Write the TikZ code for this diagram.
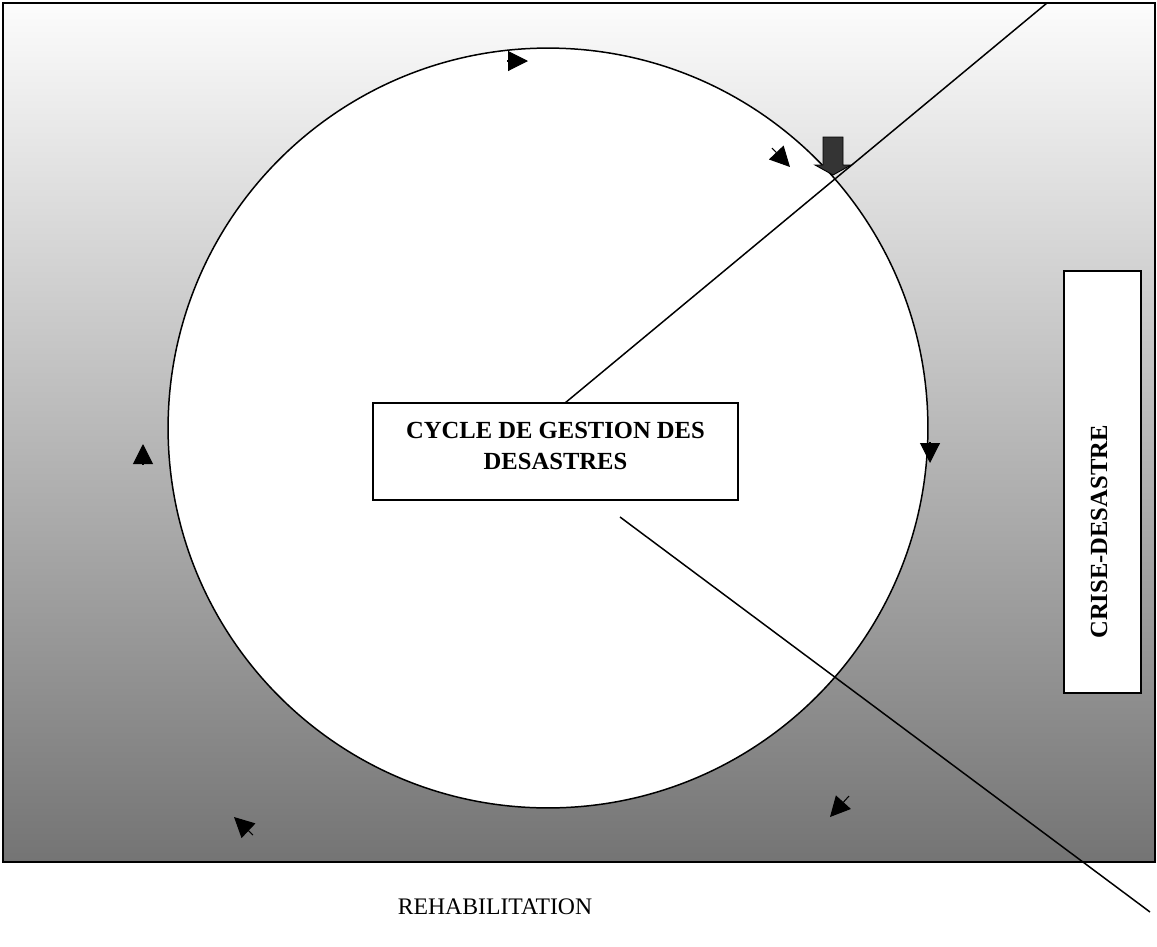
\documentclass[tikz,border=0pt]{standalone}
\usepackage{fontspec}
\setmainfont{Liberation Serif}
\usepackage{tikz}
\usetikzlibrary{arrows,arrows.meta,calc,positioning}
\definecolor{grisClaro}{RGB}{252,252,252}
\definecolor{grisFondo}{RGB}{116,116,116}
\definecolor{grisOscuro}{RGB}{52,52,52}
\tikzstyle{edge}  =[line width=0.85pt]
\tikzstyle{marco} =[draw, line width=1.1pt,
                    top color=grisClaro, bottom color=grisFondo]
\tikzstyle{Bvertex}=[circle, draw, fill=white, minimum size=15.2cm,
                    line width=0.85pt, inner sep=0pt,
                    outer sep=0pt]
\tikzstyle{caja}  =[rectangle, draw, fill=white, line width=1.1pt,
                    inner sep=0pt, outer sep=0pt]
\tikzstyle{titulo}=[font=\fontsize{14}{18}\selectfont\bfseries,
                    align=center, inner sep=0pt]
\tikzstyle{punta} =[-{Triangle[length=0.4cm,width=0.4cm]},
                    line width=0.6pt]

\begin{document}
\begin{tikzpicture}[x={(0.02cm,0)},y={(0,-0.02cm)}]
    \useasboundingbox (0,0) rectangle (1157,947);

    % fondo degradado
    \draw[marco] (3,3) rectangle (1155,862);

    % ciclo
    \draw (548,428) node (ciclo) [Bvertex] {};

    % flecha gruesa
    \filldraw[fill=grisOscuro, line width=0.5pt] (823,137) -- (843,137)
        -- (843,165) -- (851,165) -- (833,175) -- (815,165) -- (823,165) -- cycle;

    % puntas sueltas
    \foreach \xa/\ya/\xb/\yb in {507/61/528/61, 772/148/790/167,
        143/465/143/444, 930/442/930/463, 253/835/234/817, 849/796/830/817}
        \draw[punta] (\xa,\ya) -- (\xb,\yb);

    % caja central
    \draw (555.5,451.5) node (cycle) [caja, minimum width=7.3cm, minimum height=1.94cm] {};
    \draw (555.5,446) node (cycleText) [titulo] {CYCLE DE GESTION DES\\DESASTRES};

    % lineas
    \coordinate (l1a) at (565,403);
    \coordinate (l1b) at (1047,3);
    \coordinate (l2a) at (620,517);
    \coordinate (l2b) at (1150,912);
    \draw[edge] (l1a) -- (l1b);
    \draw[edge] (l2a) -- (l2b);

    % caja derecha
    \draw (1102.5,482) node (crise) [caja, minimum width=1.54cm, minimum height=8.44cm] {};
    \draw (1099,532) node (criseText) [titulo, rotate=90] {CRISE-DESASTRE};

    \draw (495,907) node (rehab) [font=\fontsize{13.5}{16}\selectfont] {REHABILITATION};

\end{tikzpicture}
\end{document}
